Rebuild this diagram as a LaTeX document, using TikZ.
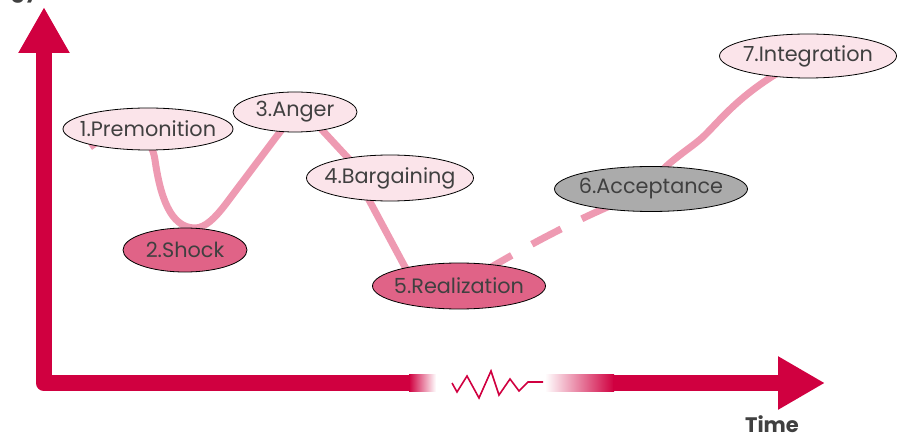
\documentclass[tikz,border=0pt]{standalone}
\usepackage{fontspec}
\setmainfont{Poppins}
\usepackage{tikz}
\usetikzlibrary{shapes.geometric,arrows.meta,backgrounds}

\definecolor{axisred}{RGB}{208,0,64}
\definecolor{trendpink}{RGB}{238,154,178}
\definecolor{palepink}{RGB}{251,228,234}
\definecolor{deeppink}{RGB}{224,99,135}
\definecolor{stonegray}{RGB}{171,171,171}
\definecolor{labelgray}{RGB}{64,64,64}

\begin{document}
\begin{tikzpicture}[
  x=1pt, y=1pt,
  stage/.style={ellipse, draw=black, line width=0.8pt, inner sep=0pt, text=labelgray, font=\fontsize{20.8}{21}\selectfont},
  stagepale/.style={stage, fill=palepink},
  stagedeep/.style={stage, fill=deeppink},
  stagegrey/.style={stage, fill=stonegray},
  axisline/.style={draw=axisred, line width=16.5pt, line join=round},
  trend/.style={draw=trendpink, line width=7pt, line join=round},
  axistitle/.style={font=\fontsize{21}{21}\selectfont\bfseries, text=labelgray}
]
\useasboundingbox (0,0) rectangle (904,-438);

\coordinate (ytip) at (44,-7);
\coordinate (origin) at (44,-383);
\coordinate (fadeout) at (410,-383);
\coordinate (fadein) at (613,-383);
\coordinate (xtip) at (825,-383);
\coordinate (trendstart) at (90,-147);

\draw[axisline, {Triangle[length=46pt,width=48pt]}-] (ytip) -- (origin) -- (fadeout);
\shade[left color=axisred, right color=white] (409,-374.75) rectangle (436,-391.25);
\draw[draw=axisred, line width=1.6pt] (452,-383) -- (457,-392) -- (467,-376) -- (479,-398) -- (491,-371) -- (499,-395) -- (510,-379) -- (519,-391) -- (528,-382) -- (543,-382);
\shade[left color=white, right color=axisred] (545,-374.75) rectangle (614,-391.25);
\draw[axisline, -{Triangle[length=47pt,width=50pt]}] (fadein) -- (xtip);

\node (energylabel) [axistitle, anchor=base east] at (42,2) {Energy};
\node (timelabel) [axistitle] at (772,-424) {Time};

\node (prem) [stagepale, minimum width=170pt, minimum height=42pt] at (148,-129) {\makebox[0pt]{1.Premonition}};
\node (shock) [stagedeep, minimum width=124pt, minimum height=44pt] at (185,-250) {\makebox[0pt]{2.Shock}};
\node (anger) [stagepale, minimum width=124pt, minimum height=40pt] at (295,-112) {\makebox[0pt]{3.Anger}};
\node (barg) [stagepale, minimum width=167pt, minimum height=46pt] at (390,-178) {\makebox[0pt]{4.Bargaining}};
\node (real) [stagedeep, minimum width=173pt, minimum height=46pt] at (459,-286) {\makebox[0pt]{5.Realization}};
\node (accept) [stagegrey, minimum width=193pt, minimum height=45pt] at (651,-189) {\makebox[0pt]{6.Acceptance}};
\node (integ) [stagepale, minimum width=177pt, minimum height=44pt] at (808,-56) {\makebox[0pt]{7.Integration}};

\begin{scope}[on background layer]
\draw[trend] (trendstart) .. controls (115,-128) and (150,-125) .. (155,-160)
  .. controls (160,-195) and (170,-228) .. (195,-228)
  .. controls (205,-228) and (215,-218) .. (225,-205)
  -- (anger.center)
  .. controls (308,-110) and (314,-121) .. (323,-131)
  -- (348,-158)
  .. controls (360,-171) and (364,-186) .. (369,-200)
  -- (405,-267)
  .. controls (412,-280) and (440,-286) .. (real.center);
\draw[trend, dash pattern=on 33pt off 23pt, dash phase=28pt] (real.center) .. controls (500,-262) and (565,-222) .. (accept.center);
\draw[trend] (accept.center) .. controls (655,-168) and (690,-150) .. (705,-135)
  .. controls (725,-115) and (745,-88) .. (integ.center);
\end{scope}

\end{tikzpicture}
\end{document}
